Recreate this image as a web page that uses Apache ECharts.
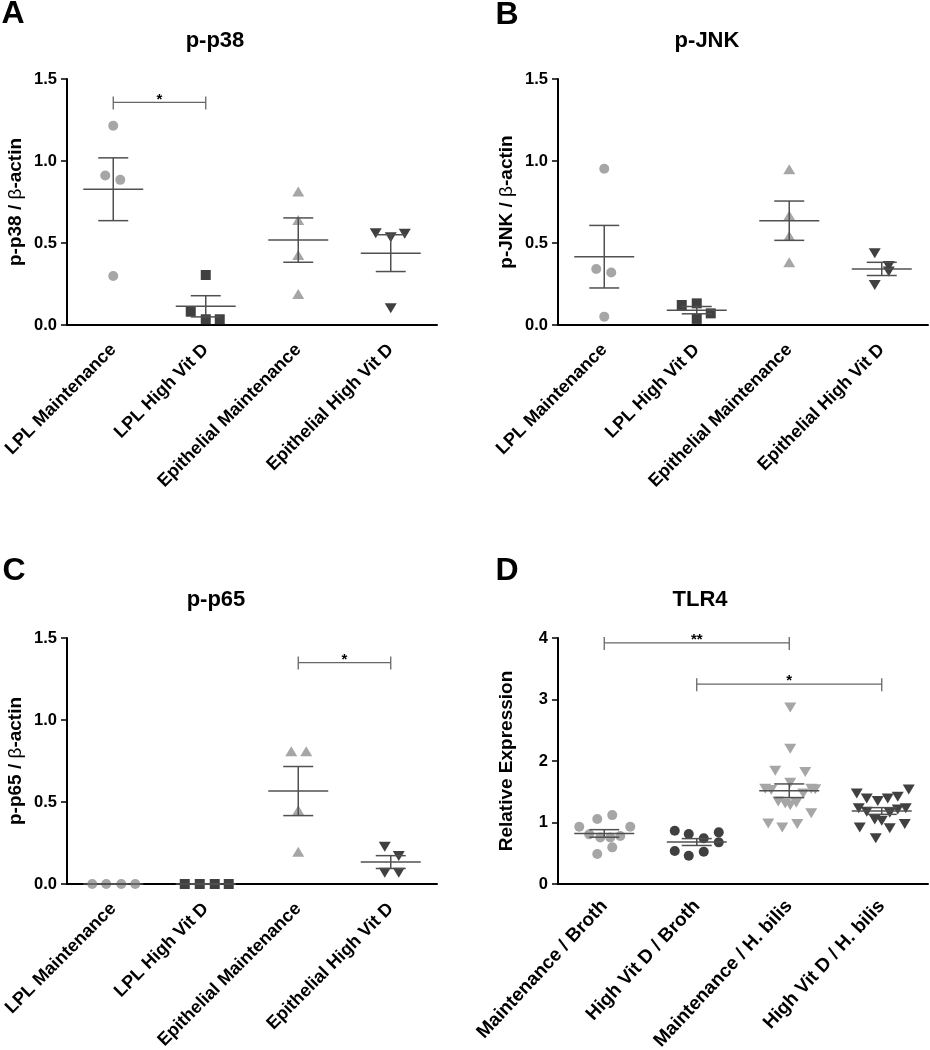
<!DOCTYPE html>
<html>
<head>
<meta charset="utf-8">
<script src="https://cdn.jsdelivr.net/npm/echarts@6/dist/echarts.min.js"></script>
<style>html,body{margin:0;padding:0;background:#fff}#c{width:930px;height:1050px}</style>
</head>
<body>
<div id="c"></div>
<script>
// ---------------- DATA ----------------
const panelLetters = ['A', 'B', 'C', 'D'];
const panelTitles = ['p-p38', 'p-JNK', 'p-p65', 'TLR4'];
const yNames = ['p-p38 / {b|β}-actin', 'p-JNK / {b|β}-actin', 'p-p65 / {b|β}-actin', 'Relative Expression'];

const catsWB = ['LPL Maintenance', 'LPL High Vit D', 'Epithelial Maintenance', 'Epithelial High Vit D'];
const catsTLR4 = ['Maintenance / Broth', 'High Vit D / Broth', 'Maintenance / H. bilis', 'High Vit D / H. bilis'];

const wbTicks = ['0.0', '0.5', '1.0', '1.5'];
const tlrTicks = ['0', '1', '2', '3', '4'];

// Panel A: p-p38
const p38_lplMaint = [1.215, 0.912, 0.885, 0.299];
const p38_lplHigh  = [0.305, 0.081, 0.035, 0.035];
const p38_epiMaint = [0.814, 0.641, 0.427, 0.189];
const p38_epiHigh  = [0.560, 0.535, 0.556, 0.102];

// Panel B: p-JNK
const jnk_lplMaint = [0.953, 0.342, 0.320, 0.051];
const jnk_lplHigh  = [0.122, 0.132, 0.071, 0.037];
const jnk_epiMaint = [0.950, 0.668, 0.543, 0.383];
const jnk_epiHigh  = [0.438, 0.360, 0.326, 0.244];

// Panel C: p-p65
const p65_lplMaint = [0, 0, 0, 0];
const p65_lplHigh  = [0, 0, 0, 0];
const p65_epiMaint = [0.810, 0.810, 0.450, 0.197];
const p65_epiHigh  = [0.227, 0.170, 0.069, 0.069];

// Panel D: TLR4
const tlr4_maintBroth = [0.93, 1.056, 1.12, 0.93, 0.807, 0.758, 0.758, 0.78, 0.596, 0.487];
const tlr4_highBroth  = [0.866, 0.812, 0.742, 0.84, 0.677, 0.536, 0.46, 0.525];
const tlr4_maintHb    = [2.87, 2.20, 1.84, 1.82, 1.645, 1.55, 1.53, 1.55, 1.54, 1.34, 1.31, 1.28, 1.32, 1.47, 1.15, 0.985, 0.92, 0.974];
const tlr4_highHb     = [1.473, 1.39, 1.35, 1.39, 1.418, 1.538, 1.23, 1.174, 1.05, 1.028, 1.158, 1.213, 1.23, 0.92, 0.905, 0.974, 0.742];

// Significance brackets: [fromCategory, toCategory, y value]
const sigA = [[0, 1, 1.357]];
const sigB = [];
const sigC = [[2, 3, 1.35]];
const sigD = [[0, 2, 3.92], [1, 3, 3.25]];
const sigLabelsA = ['*'];
const sigLabelsB = [];
const sigLabelsC = ['*'];
const sigLabelsD = ['**', '*'];

// ---------------- LAYOUT / STYLE ----------------
// horizontal scatter jitter in pixels (pure styling)
const jitter = [
  [[0, -8, 7, 0], [0, -15, 0, 14], [0, 0, 0, 0], [-15, 0, 14, 0]],
  [[0, -8, 7, 0], [-15, 0, 14, 0], [0, 0, 0, 0], [-7, 7, 7, -7]],
  [[-21, -7, 8, 22], [-21, -6, 9, 23], [-7, 8, 0, 0], [-6, 8, -6, 8]],
  [[-25, -7, 8, 26, -15, -4, 6, 16, 8, -7],
   [-22, -8, 7, 22, 22, -22, -8, 7],
   [1, 1, -14, 16, 1, -24, -18, 22, 26, -11, -4, 1, 7, 14, 22, -21, -7, 8],
   [-25, -15, -4, 6, 16, 27, -23, -15, -7, 0, 8, 16, 24, -22, 8, 23, -6]]
];
const FONT = '"Liberation Sans", Arial, Helvetica, sans-serif';
const LIGHT = '#a6a6a6', DARK = '#404040', LINE = '#505050';
const grids = [
  {left: 67, top: 79, width: 370, height: 246},
  {left: 558, top: 79, width: 370, height: 246},
  {left: 67, top: 638, width: 370, height: 246},
  {left: 558, top: 638, width: 370, height: 246}
];
const letterPos = [[13, 14], [507, 15], [14, 571], [507, 571]];
const titlePos = [[215, 41], [707, 41], [216, 600], [700, 600]];
const xLabelStyle = [
  {rotate: 45, fontSize: 18, margin: 22},
  {rotate: 45, fontSize: 18, margin: 22},
  {rotate: 45, fontSize: 18, margin: 22},
  {rotate: 47, fontSize: 19, margin: 19}
];

const wbSymbols = ['circle', 'rect', 'triangle', 'triangle'];
const wbRotate = [0, 0, 0, 180];
const wbColors = [LIGHT, DARK, LIGHT, DARK];
const dSymbols = ['circle', 'circle', 'triangle', 'triangle'];
const dRotate = [0, 0, 180, 180];
const dColors = [LIGHT, DARK, LIGHT, DARK];

const panels = [
  {cats: catsWB, ticks: wbTicks, groups: [p38_lplMaint, p38_lplHigh, p38_epiMaint, p38_epiHigh], sig: sigA, sigLabels: sigLabelsA, sym: wbSymbols, rot: wbRotate, col: wbColors},
  {cats: catsWB, ticks: wbTicks, groups: [jnk_lplMaint, jnk_lplHigh, jnk_epiMaint, jnk_epiHigh], sig: sigB, sigLabels: sigLabelsB, sym: wbSymbols, rot: wbRotate, col: wbColors},
  {cats: catsWB, ticks: wbTicks, groups: [p65_lplMaint, p65_lplHigh, p65_epiMaint, p65_epiHigh], sig: sigC, sigLabels: sigLabelsC, sym: wbSymbols, rot: wbRotate, col: wbColors},
  {cats: catsTLR4, ticks: tlrTicks, groups: [tlr4_maintBroth, tlr4_highBroth, tlr4_maintHb, tlr4_highHb], sig: sigD, sigLabels: sigLabelsD, sym: dSymbols, rot: dRotate, col: dColors}
];

function meanSem(arr) {
  const n = arr.length;
  const m = arr.reduce((a, b) => a + b, 0) / n;
  const v = arr.reduce((a, b) => a + (b - m) * (b - m), 0) / (n - 1);
  return [m, Math.sqrt(v / n)];
}

const option = {
  animation: false,
  backgroundColor: '#fff',
  grid: grids.map(g => Object.assign({containLabel: false, outerBoundsMode: 'none'}, g)),
  xAxis: [], yAxis: [], series: [], graphic: []
};

panels.forEach((p, pi) => {
  const tickNums = p.ticks.map(Number);
  const xl = xLabelStyle[pi];
  option.xAxis.push({
    type: 'category', gridIndex: pi, data: p.cats, boundaryGap: true,
    axisLine: {lineStyle: {color: '#000', width: 2}},
    axisTick: {alignWithLabel: true, length: 6, lineStyle: {color: '#000', width: 1.5}},
    axisLabel: {interval: 0, rotate: xl.rotate, margin: xl.margin, color: '#000', fontWeight: 'bold', fontSize: xl.fontSize, fontFamily: FONT},
    splitLine: {show: false}
  });
  option.yAxis.push({
    type: 'value', gridIndex: pi,
    min: tickNums[0], max: tickNums[tickNums.length - 1], interval: tickNums[1] - tickNums[0],
    axisLine: {show: true, lineStyle: {color: '#000', width: 2}},
    axisTick: {show: true, length: 6, lineStyle: {color: '#000', width: 1.5}},
    axisLabel: {margin: 10, color: '#000', fontWeight: 'bold', fontSize: 16.5, fontFamily: FONT,
      formatter: v => { const i = tickNums.findIndex(t => Math.abs(t - v) < 1e-9); return i >= 0 ? p.ticks[i] : ''; }},
    splitLine: {show: false},
    name: yNames[pi], nameLocation: 'middle', nameGap: 42,
    nameTextStyle: {color: '#000', fontWeight: 'bold', fontSize: 19, fontFamily: FONT,
      rich: {b: {fontWeight: 'normal', fontSize: 19, fontFamily: FONT, color: '#000'}}}
  });

  // scatter points
  p.groups.forEach((vals, gi) => {
    option.series.push({
      type: 'scatter', xAxisIndex: pi, yAxisIndex: pi, z: 2,
      symbol: p.sym[gi], symbolRotate: p.rot[gi],
      symbolSize: p.sym[gi] === 'triangle' ? [12, 10] : 10,
      itemStyle: {color: p.col[gi], opacity: 1},
      emphasis: {disabled: true},
      data: vals.map((v, k) => ({value: [gi, v], symbolOffset: [jitter[pi][gi][k] || 0, 0]}))
    });
  });

  // mean +/- SEM
  const msData = p.groups.map((vals, gi) => { const ms = meanSem(vals); return [gi, ms[0], ms[1]]; });
  option.series.push({
    type: 'custom', xAxisIndex: pi, yAxisIndex: pi, z: 5, clip: false, silent: true,
    data: msData,
    renderItem: (params, api) => {
      const i = api.value(0), m = api.value(1), s = api.value(2);
      const c = api.coord([i, m]), up = api.coord([i, m + s]), lo = api.coord([i, m - s]);
      const st = {stroke: LINE, lineWidth: 1.5};
      return {type: 'group', children: [
        {type: 'line', shape: {x1: c[0] - 30, y1: c[1], x2: c[0] + 30, y2: c[1]}, style: st},
        {type: 'line', shape: {x1: c[0] - 15, y1: up[1], x2: c[0] + 15, y2: up[1]}, style: st},
        {type: 'line', shape: {x1: c[0] - 15, y1: lo[1], x2: c[0] + 15, y2: lo[1]}, style: st},
        {type: 'line', shape: {x1: c[0], y1: up[1], x2: c[0], y2: lo[1]}, style: st}
      ]};
    }
  });

  // significance brackets
  if (p.sig.length) {
    option.series.push({
      type: 'custom', xAxisIndex: pi, yAxisIndex: pi, z: 5, clip: false, silent: true,
      data: p.sig,
      renderItem: (params, api) => {
        const a = api.coord([api.value(0), api.value(2)]);
        const b = api.coord([api.value(1), api.value(2)]);
        const st = {stroke: '#666', lineWidth: 1.3};
        return {type: 'group', children: [
          {type: 'line', shape: {x1: a[0], y1: a[1], x2: b[0], y2: b[1]}, style: st},
          {type: 'line', shape: {x1: a[0], y1: a[1] - 6, x2: a[0], y2: a[1] + 7}, style: st},
          {type: 'line', shape: {x1: b[0], y1: b[1] - 6, x2: b[0], y2: b[1] + 7}, style: st},
          {type: 'text', style: {text: p.sigLabels[params.dataIndex], x: (a[0] + b[0]) / 2, y: a[1] - 3,
            align: 'center', verticalAlign: 'middle', fill: '#000', font: 'bold 15px ' + FONT}}
        ]};
      }
    });
  }

  option.graphic.push({type: 'text', x: letterPos[pi][0], y: letterPos[pi][1],
    style: {text: panelLetters[pi], align: 'center', verticalAlign: 'middle', fill: '#000', font: 'bold 32px ' + FONT}});
  option.graphic.push({type: 'text', x: titlePos[pi][0], y: titlePos[pi][1],
    style: {text: panelTitles[pi], align: 'center', verticalAlign: 'middle', fill: '#000', font: 'bold 22px ' + FONT}});
});

const chart = echarts.init(document.getElementById('c'), null, {renderer: 'canvas'});
chart.setOption(option);
</script>
</body>
</html>
